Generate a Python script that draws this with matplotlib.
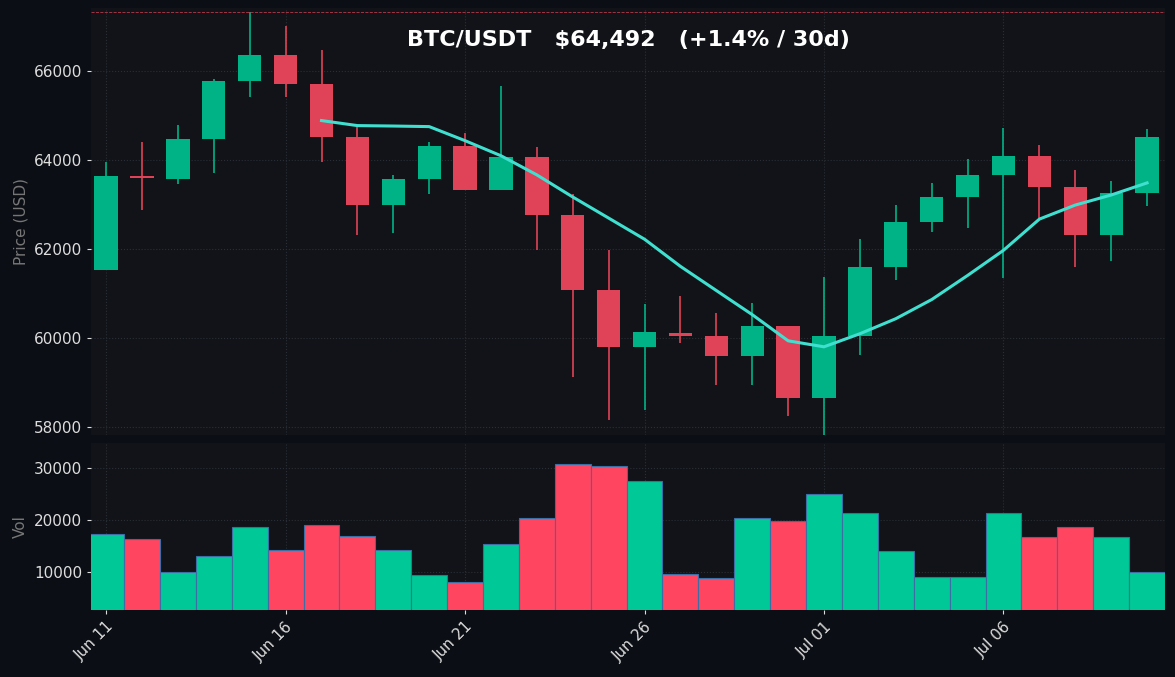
import matplotlib
matplotlib.use("Agg")
import matplotlib.pyplot as plt
import numpy as np

dates = ["Jun 11","Jun 12","Jun 13","Jun 14","Jun 15","Jun 16","Jun 17","Jun 18","Jun 19","Jun 20",
         "Jun 21","Jun 22","Jun 23","Jun 24","Jun 25","Jun 26","Jun 27","Jun 28","Jun 29","Jun 30",
         "Jul 01","Jul 02","Jul 03","Jul 04","Jul 05","Jul 06","Jul 07","Jul 08","Jul 09","Jul 10"]
opens  = [61525,63640,63580,64486,65774,66362,65706,64531,62994,63582,64328,63333,64079,62768,61096,
          59808,60124,60056,59604,60282,58655,60056,61593,62610,63175,63672,64102,63401,62316,63265]
closes = [63650,63600,64486,65774,66362,65706,64531,62994,63582,64328,63333,64079,62768,61096,59808,
          60147,60056,59604,60282,58655,60056,61593,62610,63175,63672,64102,63401,62316,63265,64531]
highs  = [63966,64418,64802,65819,67333,67017,66475,64757,63672,64418,64621,65661,64305,63243,61977,
          60780,60960,60576,60802,60282,61367,62226,62994,63492,64034,64734,64350,63785,63537,64712]
lows   = [61525,62881,63469,63717,65412,65412,63966,62316,62362,63243,63333,63333,61977,59130,58158,
          58384,59898,58949,58949,58249,57819,59627,61299,62384,62475,61345,62701,61593,61729,62971]
ma     = [None]*6 + [64893,64780,64770,64757,64441,64102,63672,63175,62701,62226,61616,61073,60531,
          59943,59808,60102,60440,60870,61412,61977,62678,62994,63220,63492]
volume = [17340,16420,10000,13120,18620,14220,18990,16970,14220,9450,7980,15320,20280,30730,30370,
          27430,9630,8900,20280,19720,25050,21380,14040,9080,9080,21380,16790,18620,16790,10000]

BG = "#0b0e14"; AX = "#111318"
G_C, R_C = "#00b386", "#e04358"
G_V, R_V = "#00c896", "#ff4560"

fig = plt.figure(figsize=(11.75, 6.77), dpi=100, facecolor=BG)
ax = fig.add_axes([0.0775, 0.357, 0.914, 0.631], facecolor=AX)
axv = fig.add_axes([0.0775, 0.099, 0.914, 0.246], facecolor=AX, sharex=ax)

x = np.arange(len(dates))
for i in x:
    up = closes[i] >= opens[i]
    c = G_C if up else R_C
    ax.vlines(i, lows[i], highs[i], color=c, lw=1.2, zorder=2)
    b = min(opens[i], closes[i]); h = abs(closes[i]-opens[i])
    ax.bar(i, max(h, 40), bottom=b, width=0.65, color=c, zorder=3)
mx = [i for i in x if ma[i] is not None]
ax.plot(mx, [ma[i] for i in mx], color="#40e0d0", lw=2.2, zorder=4)
ax.axhline(max(highs), color=R_C, ls="--", lw=0.6, alpha=0.8)
ax.axhline(min(lows), color=G_C, ls="--", lw=0.6, alpha=0.8)
ax.set_ylim(57819, 67420)
ax.set_yticks([58000, 60000, 62000, 64000, 66000])
ax.set_ylabel("Price (USD)", color="#777", fontsize=11)
ax.text(0.5, 0.925, "BTC/USDT   $64,492   (+1.4% / 30d)", transform=ax.transAxes,
        ha="center", va="center", color="white", fontsize=16, fontweight="bold")

vc = [G_V if closes[i] >= opens[i] else R_V for i in x]
axv.bar(x, volume, width=1.0, color=vc, edgecolor="#3a6ea5", linewidth=0.8)
axv.set_ylim(2700, 34700)
axv.set_yticks([10000, 20000, 30000])
axv.set_ylabel("Vol", color="#777", fontsize=11)

for a in (ax, axv):
    a.grid(True, color="#2a2e36", ls=":", lw=0.8)
    a.set_axisbelow(True)
    a.tick_params(colors="#ddd", labelsize=11, length=3)
    for s in a.spines.values():
        s.set_visible(False)
axv.set_xlim(-0.42, 29.5)
axv.set_xticks(x[::5])
axv.set_xticklabels(dates[::5], rotation=45, ha="right", rotation_mode="anchor")
plt.setp(ax.get_xticklabels(), visible=False)
ax.tick_params(axis="x", length=0)

fig.savefig("out.png", dpi=100, facecolor=BG)
